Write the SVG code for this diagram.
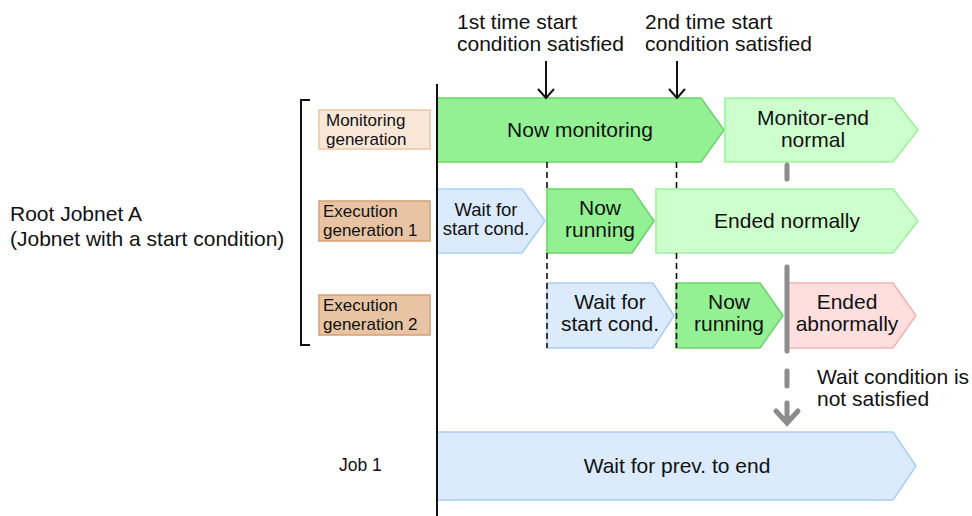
<svg xmlns="http://www.w3.org/2000/svg" width="972" height="516" viewBox="0 0 972 516">
<style>
text{font-family:"Liberation Sans",Arial,sans-serif;fill:#111}
.t{font-size:21px}
.m{font-size:18.5px}
.l{font-size:17px}
.s{font-size:17.5px}
.c{text-anchor:middle}
.green{fill:#93f093;stroke:#6ad66a;stroke-width:1.6}
.lgreen{fill:#ccffcc;stroke:#9ff09f;stroke-width:1.6}
.blue{fill:#dbeafc;stroke:#a9d0f6;stroke-width:1.6}
.pink{fill:#ffdede;stroke:#f6b2b2;stroke-width:1.6}
.lab1{fill:#fae7d8;stroke:#efc8a6;stroke-width:1.6}
.lab2{fill:#e8c4a4;stroke:#d7a479;stroke-width:1.6}
.blk{stroke:#111;stroke-width:2;fill:none}
.dash{stroke:#111;stroke-width:1.6;stroke-dasharray:6 4;fill:none}
.gray{stroke:#8c8c8c;stroke-width:5;stroke-linecap:round;fill:none}
</style>
<rect width="972" height="516" fill="#fff"/>
<g id="root-label">
<text class="t" x="10" y="221">Root Jobnet A</text>
<text class="t" x="10" y="246">(Jobnet with a start condition)</text>
</g>
<path id="bracket" class="blk" d="M310,100 H301 V345 H310"/>
<g id="label-monitoring">
<rect class="lab1" x="319" y="110" width="111" height="39"/>
<text class="l" x="326" y="126">Monitoring</text>
<text class="l" x="326" y="144.5">generation</text>
</g>
<g id="label-exec1">
<rect class="lab2" x="319" y="201" width="111" height="40"/>
<text class="l" x="323" y="217">Execution</text>
<text class="l" x="323" y="235.5">generation 1</text>
</g>
<g id="label-exec2">
<rect class="lab2" x="319" y="295" width="111" height="40"/>
<text class="l" x="323" y="311">Execution</text>
<text class="l" x="323" y="329.5">generation 2</text>
</g>
<g id="label-job1">
<text class="s" x="339" y="471">Job 1</text>
</g>
<g id="top-label-1">
<text class="t" x="457" y="29">1st time start</text>
<text class="t" x="457" y="51">condition satisfied</text>
</g>
<g id="top-label-2">
<text class="t" x="645" y="29">2nd time start</text>
<text class="t" x="645" y="51">condition satisfied</text>
</g>
<g id="now-monitoring">
<path class="green" d="M437,98 H701 L724,130 L701,162 H437 Z"/>
<text class="t c" x="580" y="137">Now monitoring</text>
</g>
<g id="monitor-end-normal">
<path class="lgreen" d="M725,98 H893 L918,130 L893,162 H725 Z"/>
<text class="t c" x="813" y="125">Monitor-end</text>
<text class="t c" x="813" y="147">normal</text>
</g>
<g id="wait-start-1">
<path class="blue" d="M437,189 H522 L545,221 L522,253 H437 Z"/>
<text class="m c" x="486" y="216">Wait for</text>
<text class="m c" x="486" y="235">start cond.</text>
</g>
<g id="now-running-1">
<path class="green" d="M547,189 H632 L654,221 L632,253 H547 Z"/>
<text class="t c" x="600" y="215">Now</text>
<text class="t c" x="600" y="237">running</text>
</g>
<g id="ended-normally">
<path class="lgreen" d="M656,189 H893 L918,221 L893,253 H656 Z"/>
<text class="t c" x="787" y="228">Ended normally</text>
</g>
<g id="wait-start-2">
<path class="blue" d="M547,283 H653 L674,315.5 L653,348 H547 Z"/>
<text class="t c" x="610" y="309">Wait for</text>
<text class="t c" x="610" y="331">start cond.</text>
</g>
<g id="now-running-2">
<path class="green" d="M676,283 H760 L783,315.5 L760,348 H676 Z"/>
<text class="t c" x="729" y="309">Now</text>
<text class="t c" x="729" y="331">running</text>
</g>
<g id="ended-abnormally">
<path class="pink" d="M786,283 H893 L916,315.5 L893,348 H786 Z"/>
<text class="t c" x="847" y="309">Ended</text>
<text class="t c" x="847" y="331">abnormally</text>
</g>
<g id="wait-prev">
<path class="blue" d="M437,432 H893 L916,466 L893,500 H437 Z"/>
<text class="t c" x="677" y="473">Wait for prev. to end</text>
</g>
<g id="wait-cond-label">
<text class="t" x="817" y="384">Wait condition is</text>
<text class="t" x="817" y="406">not satisfied</text>
</g>
<g id="connectors">
<line class="blk" x1="437" y1="84" x2="437" y2="516"/>
<path class="blk" d="M546,61 V98 M538,89 L546,98 L554,89"/>
<path class="blk" d="M677,61 V98 M669,89 L677,98 L685,89"/>
<path class="dash" d="M547,162 V189 M547,253 V348"/>
<path class="dash" d="M676.5,162 V189 M676.5,253 V348"/>
<path class="gray" d="M787,165 V179 M787,267 V351 M787,371 V386"/>
<path class="gray" d="M787,403 V423 M776,411 L787,423 L798,411"/>
</g>
</svg>
